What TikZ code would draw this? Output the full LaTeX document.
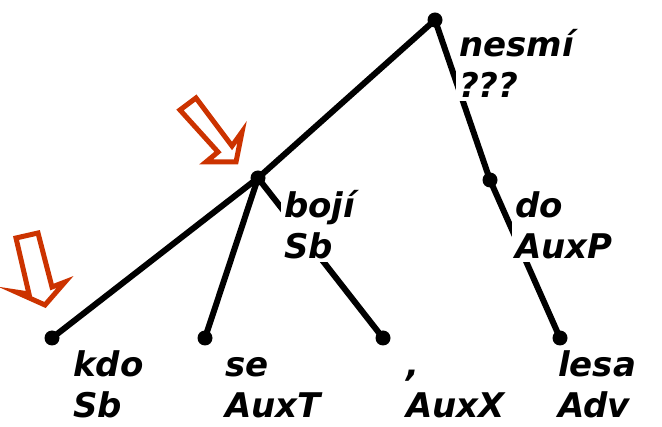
\documentclass[tikz,border=0pt]{standalone}
\usepackage{fontspec}
\setmainfont{DejaVu Sans}
\definecolor{arrowred}{RGB}{204,51,0}
\begin{document}
\begin{tikzpicture}[x=1pt,y=-1pt,
  edge/.style={line width=6pt},
  dot/.style={circle,fill=black,inner sep=0pt,minimum size=15pt},
  lbl/.style={font=\fontsize{34}{41}\selectfont\bfseries\itshape,align=left,fill=white,inner sep=3pt,anchor=base west},
  hollowarrow/.style={draw=arrowred,line width=5pt,line join=miter,fill=white}]
\useasboundingbox (0,0) rectangle (662,427);
\coordinate (root) at (435,20);
\coordinate (boji) at (258,178);
\coordinate (kdo) at (52,338);
\coordinate (se) at (205,338);
\coordinate (comma) at (383,338);
\coordinate (do) at (490,180);
\coordinate (lesa) at (560,338);
\draw[edge] (root) -- (boji);
\draw[edge] (boji) -- (kdo);
\draw[edge] (boji) -- (se);
\draw[edge] (boji) -- (comma);
\draw[edge] (root) -- (do);
\draw[edge] (do) -- (lesa);
\node[lbl] (lroot) at (456,98) {nesmí\\???};
\node[lbl] (lboji) at (281,259) {bojí\\Sb};
\node[lbl] (ldo) at (512,259) {do\\AuxP};
\node[lbl] (lkdo) at (70,418) {kdo\\Sb};
\node[lbl] (lse) at (222,418) {se\\AuxT};
\node[lbl] (lcomma) at (403,418) {,\\AuxX};
\node[lbl] (llesa) at (555,418) {lesa\\Adv};
\foreach \n in {root,boji,kdo,se,comma,do,lesa} \node[dot] (d\n) at (\n) {};
\draw[hollowarrow] (180,110) -- (196,98) -- (232,146) -- (242,132) -- (236,162) -- (206,162) -- (218,152) -- cycle;
\draw[hollowarrow] (16,238) -- (38,233) -- (52,287) -- (65,282) -- (45,305) -- (16,292) -- (29,294) -- cycle;
\end{tikzpicture}
\end{document}
